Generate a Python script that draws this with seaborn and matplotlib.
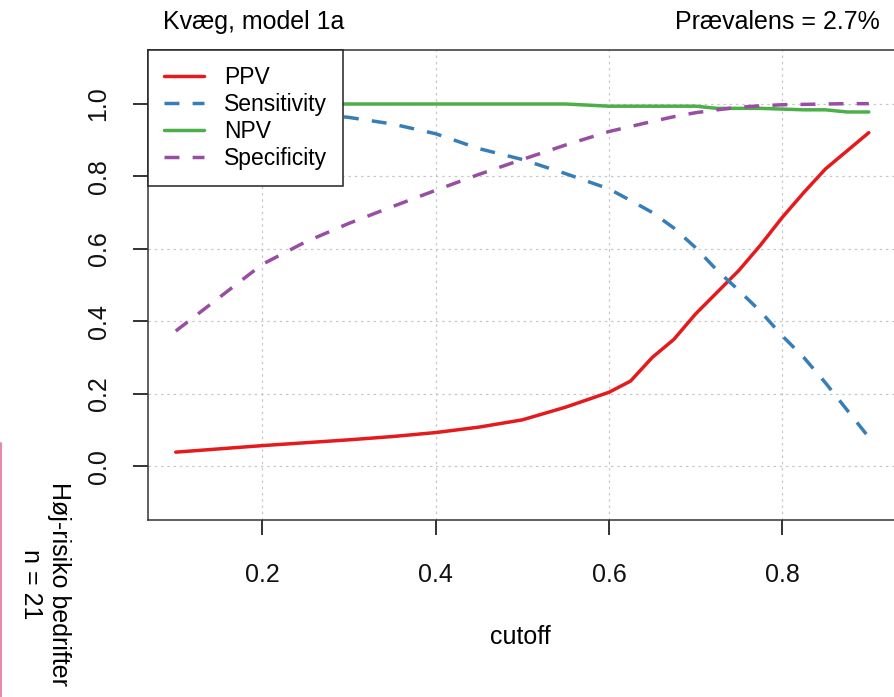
import pandas as pd
import matplotlib
matplotlib.use("Agg")
import matplotlib.pyplot as plt
from matplotlib.lines import Line2D
import seaborn as sns

# ── data ────────────────────────────────────────────────────────────────────
cutoff = [0.10, 0.15, 0.20, 0.25, 0.30, 0.35, 0.40, 0.45, 0.50, 0.55, 0.60,
          0.625, 0.65, 0.675, 0.70, 0.725, 0.75, 0.775, 0.80, 0.825, 0.85,
          0.875, 0.90]
ppv = [0.039, 0.048, 0.057, 0.065, 0.073, 0.082, 0.093, 0.108, 0.128, 0.163,
       0.204, 0.235, 0.300, 0.350, 0.420, 0.480, 0.540, 0.610, 0.686, 0.755,
       0.820, 0.870, 0.920]
sensitivity = [1.000, 0.995, 0.985, 0.975, 0.962, 0.944, 0.917, 0.876, 0.846,
               0.807, 0.765, 0.733, 0.700, 0.657, 0.603, 0.540, 0.485, 0.427,
               0.360, 0.300, 0.230, 0.155, 0.080]
npv = [1.000, 1.000, 1.000, 1.000, 0.999, 0.999, 0.999, 0.999, 0.999, 0.999,
       0.993, 0.993, 0.993, 0.993, 0.993, 0.987, 0.987, 0.987, 0.985, 0.983,
       0.983, 0.977, 0.977]
specificity = [0.373, 0.465, 0.557, 0.619, 0.670, 0.716, 0.761, 0.805, 0.846,
               0.886, 0.923, 0.937, 0.951, 0.964, 0.975, 0.983, 0.990, 0.994,
               0.997, 0.998, 0.999, 1.000, 1.000]

measures = ["PPV", "Sensitivity", "NPV", "Specificity"]
colours = ["#E41A1C", "#377EB8", "#4DAF4A", "#984EA3"]
dash_map = {"PPV": "", "Sensitivity": (4.3, 3.8), "NPV": "", "Specificity": (4.3, 3.8)}

x_ticks = [0.2, 0.4, 0.6, 0.8]
y_ticks = [0.0, 0.2, 0.4, 0.6, 0.8, 1.0]

# ── figure ──────────────────────────────────────────────────────────────────
sns.set_style("ticks")
plt.rcParams["font.family"] = ["Liberation Sans", "DejaVu Sans"]
plt.rcParams["text.color"] = "black"

df = pd.DataFrame({"cutoff": cutoff, "PPV": ppv, "Sensitivity": sensitivity,
                   "NPV": npv, "Specificity": specificity})
df_long = df.melt(id_vars="cutoff", var_name="measure", value_name="value")

fig = plt.figure(figsize=(8.95, 6.97), dpi=100)
ax = fig.add_axes([0.1654, 0.254, 0.8363, 0.6743])

sns.lineplot(data=df_long, x="cutoff", y="value", hue="measure", style="measure",
             hue_order=measures, style_order=measures,
             palette=dict(zip(measures, colours)), dashes=dash_map,
             linewidth=2.5, errorbar=None, legend=False, ax=ax)

ax.set_xlim(0.068, 0.932)
ax.set_ylim(-0.148, 1.148)
ax.set_xticks(x_ticks)
ax.set_yticks(y_ticks)
ax.set_xticklabels([f"{v:.1f}" for v in x_ticks])
ax.set_yticklabels([f"{v:.1f}" for v in y_ticks], rotation=90, va="center")
ax.tick_params(axis="both", which="major", direction="out", length=11,
               width=1.4, labelsize=18, color="#333333",
               labelcolor="#111111", bottom=True, left=True,
               top=False, right=False)
ax.tick_params(axis="x", pad=20)
ax.tick_params(axis="y", pad=16)
ax.set_xlabel("")
ax.set_ylabel("")

# gitter i R-stil (prikket, lysegrå)
ax.grid(True, color="#c8c8c8", linestyle=(0, (2, 3)), linewidth=0.9)
for s in ax.spines.values():
    s.set_visible(True)
    s.set_color("#333333")
    s.set_linewidth(1.1)

handles = [Line2D([], [], color=c, lw=2.5,
                  linestyle="-" if dash_map[m] == "" else (0, dash_map[m]))
           for m, c in zip(measures, colours)]
leg = ax.legend(handles, measures, loc="upper left", bbox_to_anchor=(0, 1),
                borderaxespad=0, frameon=True, fancybox=False, framealpha=1,
                edgecolor="#222222", fontsize=16.5, handlelength=1.75,
                handletextpad=0.85, labelspacing=0.18, borderpad=0.7)
leg.get_frame().set_linewidth(1.1)

# tekster udenfor plottet
fig.text(0.182, 0.968, "Kvæg, model 1a", ha="left", va="center", fontsize=18)
fig.text(0.983, 0.968, "Prævalens = 2.7%", ha="right", va="center", fontsize=18)
fig.text(0.581, 0.086, "cutoff", ha="center", va="center", fontsize=18)
fig.text(0.050, 0.162, "Høj-risiko bedrifter\nn = 21", rotation=270,
         ha="center", va="center", multialignment="center", fontsize=18)
fig.add_artist(Line2D([0.0015, 0.0015], [0, 1 - 443 / 697],
                      transform=fig.transFigure, color="#E88BA8", lw=1.5))

plt.savefig("out.png", dpi=100)
plt.close()
